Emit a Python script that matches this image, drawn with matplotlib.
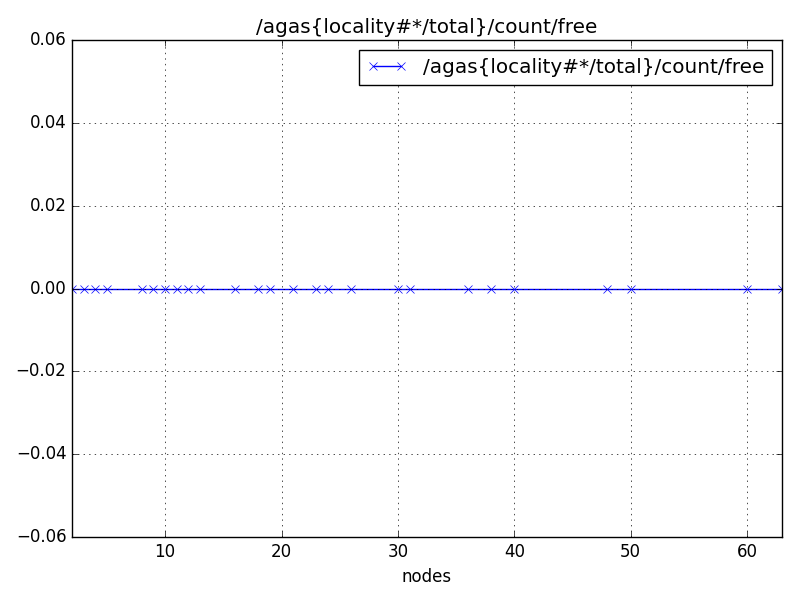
import matplotlib
matplotlib.use('Agg')
import matplotlib.pyplot as plt

plt.style.use('classic')

# sampled node counts and counter values
nodes = [2, 3, 4, 5, 8, 9, 10, 11, 12, 13, 16, 18, 19, 21, 23, 24, 26,
         30, 31, 36, 38, 40, 48, 50, 60, 63]
free = [0.0] * len(nodes)
name = '/agas{locality#*/total}/count/free'

fig, ax = plt.subplots(figsize=(8, 6), dpi=100)
fig.subplots_adjust(left=0.09, right=0.9775, top=0.9333, bottom=0.105)
ax.plot(nodes, free, 'bx-', label=name)
ax.set_xlim(min(nodes), max(nodes))
ax.set_ylim(-0.06, 0.06)
ax.set_title(name)
ax.set_xlabel('nodes')
ax.grid(True)
ax.legend(loc='upper right')

fig.savefig('out.png', dpi=100)
